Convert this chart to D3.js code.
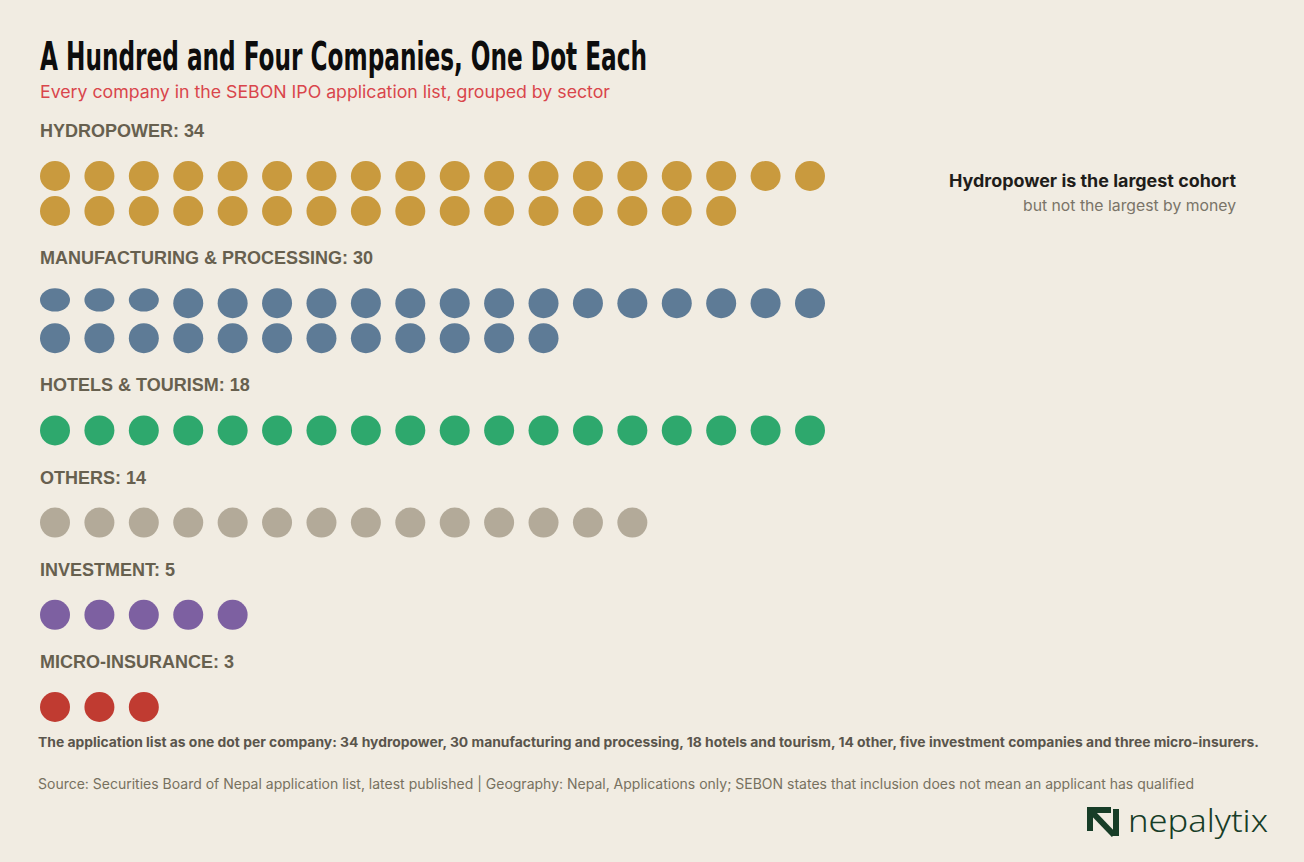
<!DOCTYPE html>
<html>
<head>
<meta charset="utf-8">
<script src="https://cdn.jsdelivr.net/npm/d3@7"></script>
<style>
  html, body { margin: 0; padding: 0; background: #f1ece2; }
  svg { display: block; }
</style>
</head>
<body>
<svg id="chart"></svg>
<script>
// sectors and company counts, in the order they are drawn
const sectors = [
  'HYDROPOWER',
  'MANUFACTURING & PROCESSING',
  'HOTELS & TOURISM',
  'OTHERS',
  'INVESTMENT',
  'MICRO-INSURANCE'
]
const counts = [34, 30, 18, 14, 5, 3]
const palette = ['#c99a3e', '#5e7b96', '#2ea86d', '#b3aa99', '#7d60a1', '#c03b31']

const TITLE = 'A Hundred and Four Companies, One Dot Each'
const SUBTITLE = 'Every company in the SEBON IPO application list, grouped by sector'
const NOTE_HEAD = 'Hydropower is the largest cohort'
const NOTE_SUB = 'but not the largest by money'
const FOOT_NOTE = 'The application list as one dot per company: 34 hydropower, 30 manufacturing and processing, 18 hotels and tourism, 14 other, five investment companies and three micro-insurers.'
const SOURCE = 'Source: Securities Board of Nepal application list, latest published | Geography: Nepal, Applications only; SEBON states that inclusion does not mean an applicant has qualified'

const width = 1304
const height = 862
const perRow = 18
const dotR = 15
const firstBaseline = 137
const labelToDot = 39
const rowStep = 35
const dotToLabel = 53.2

// the first few manufacturing dots render squashed in the original
const squash = { sector: 1, count: 3, ratio: 0.78 }

const LABEL_FONT = '"Liberation Sans", Arial, sans-serif'
const TEXT_FONT = 'Inter, "Noto Sans", sans-serif'

const svg = d3.select('#chart')
  .attr('width', width)
  .attr('height', height)

svg.append('rect')
  .attr('width', width)
  .attr('height', height)
  .attr('fill', '#f1ece2')

// Title + subtitle
svg.append('text')
  .attr('x', 40)
  .attr('y', 70)
  .attr('textLength', 607)
  .attr('lengthAdjust', 'spacingAndGlyphs')
  .style('font-family', '"Liberation Sans Narrow", "DejaVu Sans Condensed", "Liberation Sans", sans-serif')
  .style('font-stretch', 'condensed')
  .style('font-weight', 700)
  .style('font-size', '39px')
  .style('fill', '#0d0d0d')
  .text(TITLE)

svg.append('text')
  .attr('x', 40)
  .attr('y', 98)
  .attr('textLength', 570)
  .attr('lengthAdjust', 'spacingAndGlyphs')
  .style('font-family', TEXT_FONT)
  .style('font-size', '17px')
  .style('fill', '#d9454b')
  .text(SUBTITLE)

// Layout of the sector blocks
const x = d3.scaleLinear().domain([0, perRow - 1]).range([55, 810])

let baseline = firstBaseline
const blocks = sectors.map((name, i) => {
  const rows = Math.ceil(counts[i] / perRow)
  const block = { name, count: counts[i], color: palette[i], index: i, baseline }
  block.y = d3.scaleLinear().domain([0, 1]).range([baseline + labelToDot, baseline + labelToDot + rowStep])
  baseline = block.y(rows - 1) + dotToLabel
  return block
})

const group = svg.selectAll('g.sector')
  .data(blocks)
  .join('g')
  .attr('class', 'sector')

group.append('text')
  .attr('x', 40)
  .attr('y', d => d.baseline)
  .style('font-family', LABEL_FONT)
  .style('font-weight', 700)
  .style('font-size', '18px')
  .style('fill', '#67604f')
  .text(d => `${d.name}: ${d.count}`)

group.selectAll('ellipse')
  .data(d => d3.range(d.count).map(k => ({ k, block: d })))
  .join('ellipse')
  .attr('cx', d => x(d.k % perRow))
  .attr('rx', dotR)
  .attr('ry', d => {
    const sq = d.block.index === squash.sector && d.k < squash.count
    return sq ? dotR * squash.ratio : dotR
  })
  .attr('cy', d => {
    const cy = d.block.y(Math.floor(d.k / perRow))
    const sq = d.block.index === squash.sector && d.k < squash.count
    return sq ? cy - dotR * (1 - squash.ratio) : cy
  })
  .attr('fill', d => d.block.color)

// Annotation
svg.append('text')
  .attr('x', 1236)
  .attr('y', 187)
  .attr('text-anchor', 'end')
  .attr('textLength', 287)
  .attr('lengthAdjust', 'spacingAndGlyphs')
  .style('font-family', TEXT_FONT)
  .style('font-weight', 700)
  .style('font-size', '17px')
  .style('fill', '#1f1d1a')
  .text(NOTE_HEAD)

svg.append('text')
  .attr('x', 1236)
  .attr('y', 211)
  .attr('text-anchor', 'end')
  .attr('textLength', 213)
  .attr('lengthAdjust', 'spacingAndGlyphs')
  .style('font-family', TEXT_FONT)
  .style('font-size', '15px')
  .style('fill', '#7a7468')
  .text(NOTE_SUB)

// Footer
svg.append('text')
  .attr('x', 38)
  .attr('y', 747)
  .attr('textLength', 1221)
  .attr('lengthAdjust', 'spacingAndGlyphs')
  .style('font-family', TEXT_FONT)
  .style('font-weight', 700)
  .style('font-size', '13px')
  .style('fill', '#5a554c')
  .text(FOOT_NOTE)

svg.append('text')
  .attr('x', 38)
  .attr('y', 789)
  .attr('textLength', 1156)
  .attr('lengthAdjust', 'spacingAndGlyphs')
  .style('font-family', TEXT_FONT)
  .style('font-size', '14px')
  .style('fill', '#77715f')
  .text(SOURCE)

// Logo
const logo = svg.append('g')
  .attr('transform', 'translate(1087, 807)')
  .attr('fill', 'none')
  .attr('stroke', '#173d27')
  .attr('stroke-width', 6)

logo.append('path')
  .attr('d', 'M3,21 V3 H21')
  .attr('stroke-linecap', 'square')
logo.append('path')
  .attr('d', 'M3,3 L27,28')
logo.append('path')
  .attr('d', 'M29,2 V29')

svg.append('text')
  .attr('x', 1128)
  .attr('y', 832)
  .attr('textLength', 140)
  .attr('lengthAdjust', 'spacingAndGlyphs')
  .style('font-family', '"Noto Sans", sans-serif')
  .style('font-weight', 300)
  .style('font-size', '31px')
  .style('fill', '#173d27')
  .text('nepalytix')
</script>
</body>
</html>
